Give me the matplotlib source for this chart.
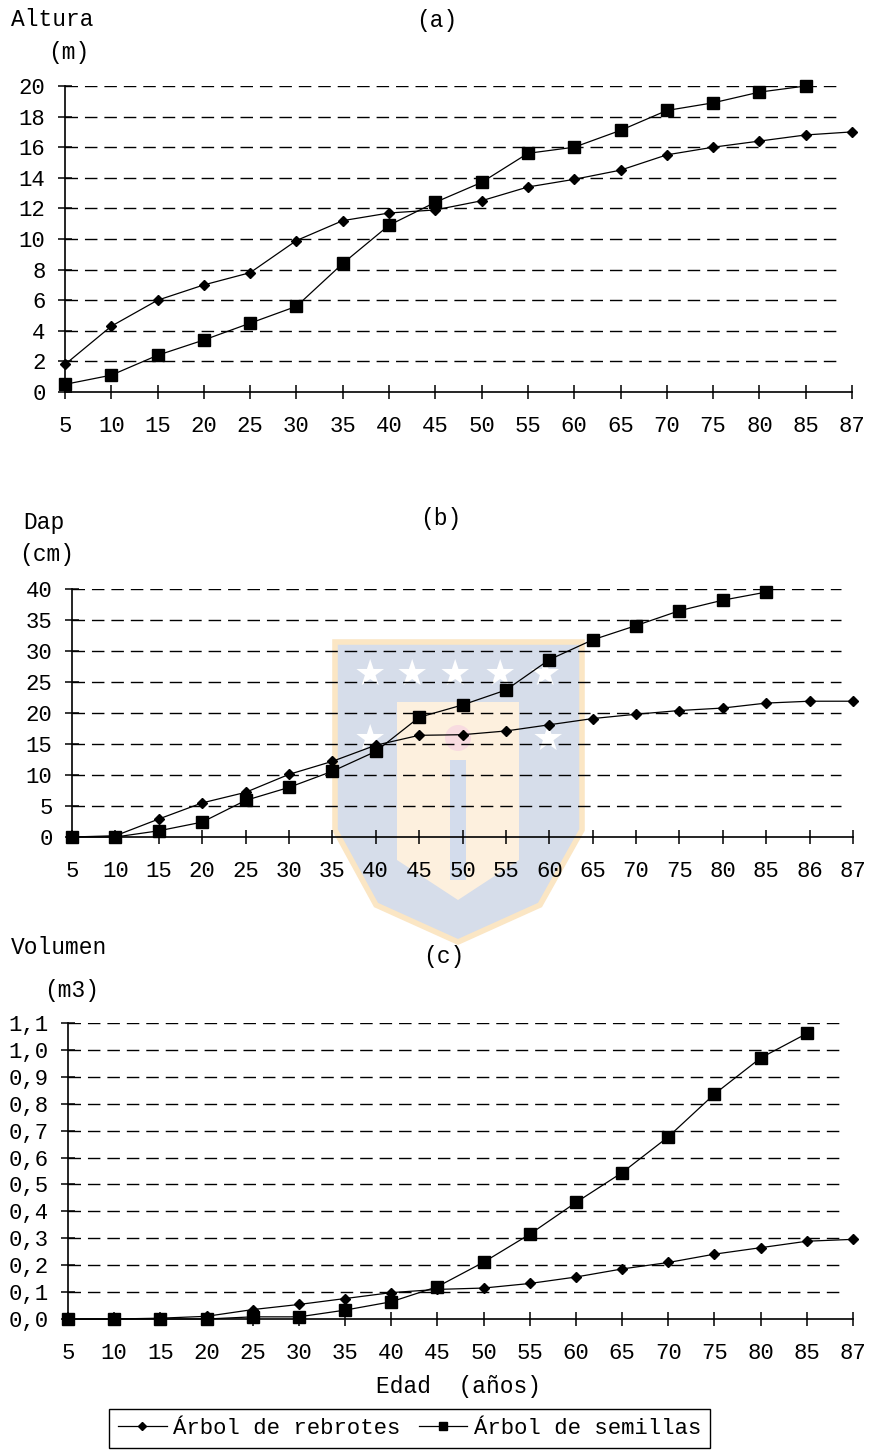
import matplotlib
matplotlib.use("Agg")
import matplotlib.pyplot as plt
import matplotlib.patches as mpatches
from matplotlib.lines import Line2D
import numpy as np

W, H = 869, 1450
nan = np.nan

# x categories (edad, años)
edad_ac = ["5", "10", "15", "20", "25", "30", "35", "40", "45", "50",
           "55", "60", "65", "70", "75", "80", "85", "87"]
edad_b = ["5", "10", "15", "20", "25", "30", "35", "40", "45", "50",
          "55", "60", "65", "70", "75", "80", "85", "86", "87"]

# (a) altura (m)
altura_rebrotes = [1.8, 4.3, 6.0, 7.0, 7.8, 9.9, 11.2, 11.7, 11.9, 12.5,
                   13.4, 13.9, 14.5, 15.5, 16.0, 16.4, 16.8, 17.0]
altura_semillas = [0.5, 1.1, 2.4, 3.4, 4.5, 5.6, 8.4, 10.9, 12.4, 13.7,
                   15.6, 16.0, 17.1, 18.4, 18.9, 19.6, 20.0, nan]

# (b) dap (cm)
dap_rebrotes = [0.0, 0.2, 2.9, 5.5, 7.2, 10.1, 12.2, 14.8, 16.4, 16.5,
                17.1, 18.1, 19.1, 19.8, 20.4, 20.8, 21.6, 21.9, 21.9]
dap_semillas = [0.0, 0.0, 1.0, 2.4, 5.9, 8.0, 10.6, 13.8, 19.3, 21.3,
                23.7, 28.6, 31.8, 34.1, 36.5, 38.2, 39.5, nan, nan]

# (c) volumen (m3)
vol_rebrotes = [0.0, 0.0, 0.003, 0.01, 0.035, 0.054, 0.076, 0.098, 0.11, 0.115,
                0.132, 0.156, 0.186, 0.21, 0.241, 0.265, 0.289, 0.296]
vol_semillas = [0.0, 0.0, 0.0, 0.0, 0.008, 0.008, 0.033, 0.064, 0.12, 0.211,
                0.315, 0.433, 0.544, 0.677, 0.836, 0.97, 1.061, nan]

ticks_a = [0, 2, 4, 6, 8, 10, 12, 14, 16, 18, 20]
ticks_b = [0, 5, 10, 15, 20, 25, 30, 35, 40]
ticks_c = [0.0, 0.1, 0.2, 0.3, 0.4, 0.5, 0.6, 0.7, 0.8, 0.9, 1.0, 1.1]
ticklabels_c = ["0,0", "0,1", "0,2", "0,3", "0,4", "0,5", "0,6",
                "0,7", "0,8", "0,9", "1,0", "1,1"]

FONT = "Liberation Mono"
plt.rcParams["font.family"] = [FONT, "DejaVu Sans"]

fig = plt.figure(figsize=(W / 100, H / 100), dpi=100)


def fx(x):
    return x / W


def fy(y):
    return 1 - y / H


def watermark():
    # faint university shield behind panel (b)
    kw = dict(transform=fig.transFigure, zorder=-5)
    verts = [(335, 642), (582, 642), (582, 830), (540, 905), (458, 942),
             (376, 905), (335, 830)]
    fig.patches.append(mpatches.Polygon([(fx(a), fy(b)) for a, b in verts],
                                        closed=True, fc="#d6ddea", ec="#fbe6c4",
                                        lw=4, **kw))
    inner = [(397, 702), (519, 702), (519, 860), (458, 900), (397, 860)]
    fig.patches.append(mpatches.Polygon([(fx(a), fy(b)) for a, b in inner],
                                        closed=True, fc="#fdf0de", ec="none", **kw))
    fig.patches.append(mpatches.Rectangle((fx(450), fy(880)), fx(16), 120 / H,
                                          fc="#d3dcec", ec="none", **kw))
    fig.patches.append(mpatches.Ellipse((fx(458), fy(738)), fx(26), 26 / H,
                                        fc="#f8dbe0", ec="none", **kw))
    for sx, sy in [(370, 675), (412, 675), (455, 675), (500, 675), (545, 675),
                   (370, 740), (548, 740)]:
        fig.text(fx(sx), fy(sy), "\u2605", color="white", fontsize=26,
                 ha="center", va="center", family="DejaVu Sans", zorder=-4)


def panel(rect, labels, rebrotes, semillas, yticks, yticklabels):
    ax = fig.add_axes(rect)
    ax.set_facecolor("none")
    x = np.arange(len(labels))
    ytop = yticks[-1]
    for y in yticks[1:]:
        ax.axhline(y, xmin=0, xmax=0.985, color="k", lw=1.0,
                   ls=(0, (9, 5)), zorder=1)
    ax.plot(x, rebrotes, color="k", lw=0.9, marker="D", ms=5.5,
            clip_on=False, zorder=3)
    ax.plot(x, semillas, color="k", lw=0.9, marker="s", ms=8.5,
            clip_on=False, zorder=3)
    ax.set_xlim(0, len(labels) - 1)
    ax.set_ylim(0, ytop)
    ax.set_xticks(x)
    ax.set_xticklabels(labels)
    ax.set_yticks(yticks)
    ax.set_yticklabels(yticklabels)
    for s in ["top", "right"]:
        ax.spines[s].set_visible(False)
    ax.spines["left"].set_linewidth(1.2)
    ax.spines["bottom"].set_linewidth(1.2)
    ax.tick_params(axis="x", direction="inout", length=10, width=1.1,
                   pad=12, labelsize=16)
    ax.tick_params(axis="y", direction="inout", length=10, width=1.1,
                   pad=9, labelsize=16)
    return ax


watermark()

panel([fx(65), fy(392), fx(852 - 65), 306 / H], edad_ac,
      altura_rebrotes, altura_semillas, ticks_a, [str(t) for t in ticks_a])
panel([fx(72), fy(837), fx(853 - 72), 248 / H], edad_b,
      dap_rebrotes, dap_semillas, ticks_b, [str(t) for t in ticks_b])
panel([fx(68), fy(1319), fx(853 - 68), 296 / H], edad_ac,
      vol_rebrotes, vol_semillas, ticks_c, ticklabels_c)

tkw = dict(fontsize=16.5, va="center")
fig.text(fx(11), fy(20), "Altura", ha="left", **tkw)
fig.text(fx(48), fy(52), "(m)", ha="left", **tkw)
fig.text(fx(437), fy(20), "(a)", ha="center", **tkw)
fig.text(fx(23), fy(522), "Dap", ha="left", **tkw)
fig.text(fx(19), fy(554), "(cm)", ha="left", **tkw)
fig.text(fx(441), fy(519), "(b)", ha="center", **tkw)
fig.text(fx(11), fy(948), "Volumen", ha="left", **tkw)
fig.text(fx(44), fy(990), "(m3)", ha="left", **tkw)
fig.text(fx(444), fy(957), "(c)", ha="center", **tkw)
fig.text(fx(458), fy(1386), "Edad  (años)", ha="center", **tkw)

handles = [Line2D([], [], color="k", lw=0.9, marker="D", ms=4),
           Line2D([], [], color="k", lw=0.9, marker="s", ms=6)]
fig.legend(handles, ["Árbol de rebrotes", "Árbol de semillas"],
           loc="upper left", bbox_to_anchor=(fx(109), fy(1409)), ncol=2,
           frameon=True, fancybox=False, edgecolor="k", framealpha=1,
           handlelength=2.2, handletextpad=0.3, columnspacing=0.8,
           borderpad=0.4, borderaxespad=0, prop={"family": FONT, "size": 16})

fig.savefig("out.png", dpi=100)
